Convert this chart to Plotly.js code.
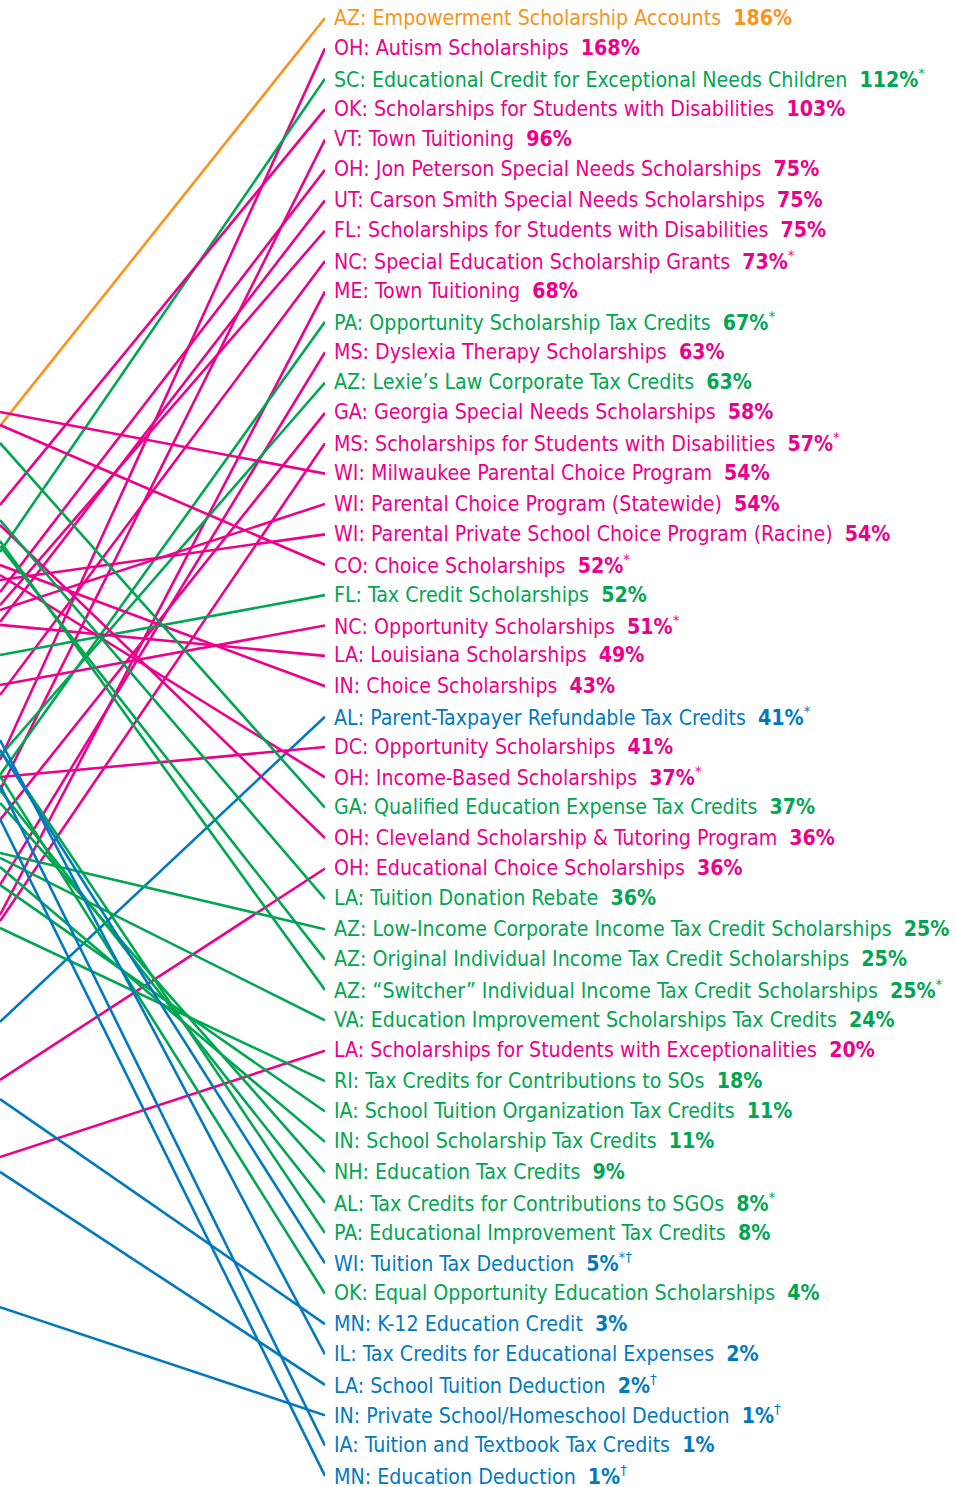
<!DOCTYPE html>
<html><head><meta charset="utf-8">
<script src="https://cdn.plot.ly/plotly-3.0.1.min.js"></script>
<style>html,body{margin:0;padding:0;background:#fff}</style>
</head><body><div id="chart" style="width:955px;height:1487px"></div>
<script>
const programs = [
"AZ: Empowerment Scholarship Accounts","OH: Autism Scholarships","SC: Educational Credit for Exceptional Needs Children",
"OK: Scholarships for Students with Disabilities","VT: Town Tuitioning","OH: Jon Peterson Special Needs Scholarships",
"UT: Carson Smith Special Needs Scholarships","FL: Scholarships for Students with Disabilities","NC: Special Education Scholarship Grants",
"ME: Town Tuitioning","PA: Opportunity Scholarship Tax Credits","MS: Dyslexia Therapy Scholarships",
"AZ: Lexie’s Law Corporate Tax Credits","GA: Georgia Special Needs Scholarships","MS: Scholarships for Students with Disabilities",
"WI: Milwaukee Parental Choice Program","WI: Parental Choice Program (Statewide)","WI: Parental Private School Choice Program (Racine)",
"CO: Choice Scholarships","FL: Tax Credit Scholarships","NC: Opportunity Scholarships","LA: Louisiana Scholarships",
"IN: Choice Scholarships","AL: Parent-Taxpayer Refundable Tax Credits","DC: Opportunity Scholarships",
"OH: Income-Based Scholarships","GA: Qualified Education Expense Tax Credits","OH: Cleveland Scholarship &amp; Tutoring Program",
"OH: Educational Choice Scholarships","LA: Tuition Donation Rebate","AZ: Low-Income Corporate Income Tax Credit Scholarships",
"AZ: Original Individual Income Tax Credit Scholarships","AZ: “Switcher” Individual Income Tax Credit Scholarships",
"VA: Education Improvement Scholarships Tax Credits","LA: Scholarships for Students with Exceptionalities",
"RI: Tax Credits for Contributions to SOs","IA: School Tuition Organization Tax Credits","IN: School Scholarship Tax Credits",
"NH: Education Tax Credits","AL: Tax Credits for Contributions to SGOs","PA: Educational Improvement Tax Credits",
"WI: Tuition Tax Deduction","OK: Equal Opportunity Education Scholarships","MN: K-12 Education Credit",
"IL: Tax Credits for Educational Expenses","LA: School Tuition Deduction","IN: Private School/Homeschool Deduction",
"IA: Tuition and Textbook Tax Credits","MN: Education Deduction"
];
const percents = [186,168,112,103,96,75,75,75,73,68,67,63,63,58,57,54,54,54,52,52,51,49,43,41,41,37,37,36,36,36,25,25,25,24,20,18,11,11,9,8,8,5,4,3,2,2,1,1,1];
const notes = ["","","*","","","","","","*","","*","","","","*","","","","*","","*","","","*","","*","","","","","","","*","","","","","","","*","","*†","","","","†","†","","†"];
// program type: E = ESA, V = voucher, S = tax-credit scholarship, T = individual tax credit / deduction
const types = ["E","V","S","V","V","V","V","V","V","V","S","V","S","V","V","V","V","V","V","S","V","V","V","T","V","V","S","V","V","S","S","S","S","S","V","S","S","S","S","S","S","T","S","T","T","T","T","T","T"];
const leftRank = [14.43,25.43,18.58,17.03,26.42,19.90,20.88,20.33,23.29,30.53,25.92,29.54,25.30,27.40,30.73,13.97,20.49,19.50,14.40,21.97,22.96,20.98,19.01,34.05,25.99,19.34,14.99,17.69,35.96,17.53,28.49,18.38,18.22,28.65,38.50,30.96,29.54,28.95,26.84,26.42,25.10,25.10,25.95,36.59,24.77,38.99,43.44,26.25,27.37];

const colors = {E:"#F7941D", V:"#EC008C", S:"#00A651", T:"#0079C1"};
const FONT = "DejaVu Sans Condensed, Liberation Sans Narrow, sans-serif";

const traces = programs.map((p, i) => ({
  x: [0, 1], y: [leftRank[i], i + 1], mode: "lines", type: "scatter",
  line: {color: colors[types[i]], width: 2.6}, hoverinfo: "skip", showlegend: false
}));

const annotations = programs.map((p, i) => ({
  x: 1, y: i + 1, xref: "x", yref: "y", xanchor: "left", yanchor: "middle", xshift: 7, yshift: 1, showarrow: false,
  text: p + "&nbsp;&nbsp;<b>" + percents[i] + "%</b>" + (notes[i] ? "<sup>" + notes[i] + "</sup>" : ""),
  font: {family: FONT, size: 21.2, color: colors[types[i]]}, align: "left"
}));

const layout = {
  width: 955, height: 1487, margin: {l: 0, r: 630, t: 0, b: 0},
  paper_bgcolor: "#fff", plot_bgcolor: "#fff",
  xaxis: {range: [0, 1], visible: false, fixedrange: true},
  yaxis: {range: [1 + 1469 / 30.375, 1 - 18 / 30.375], visible: false, fixedrange: true},
  annotations: annotations, showlegend: false
};
Plotly.newPlot("chart", traces, layout, {displayModeBar: false, staticPlot: true});
</script></body></html>
